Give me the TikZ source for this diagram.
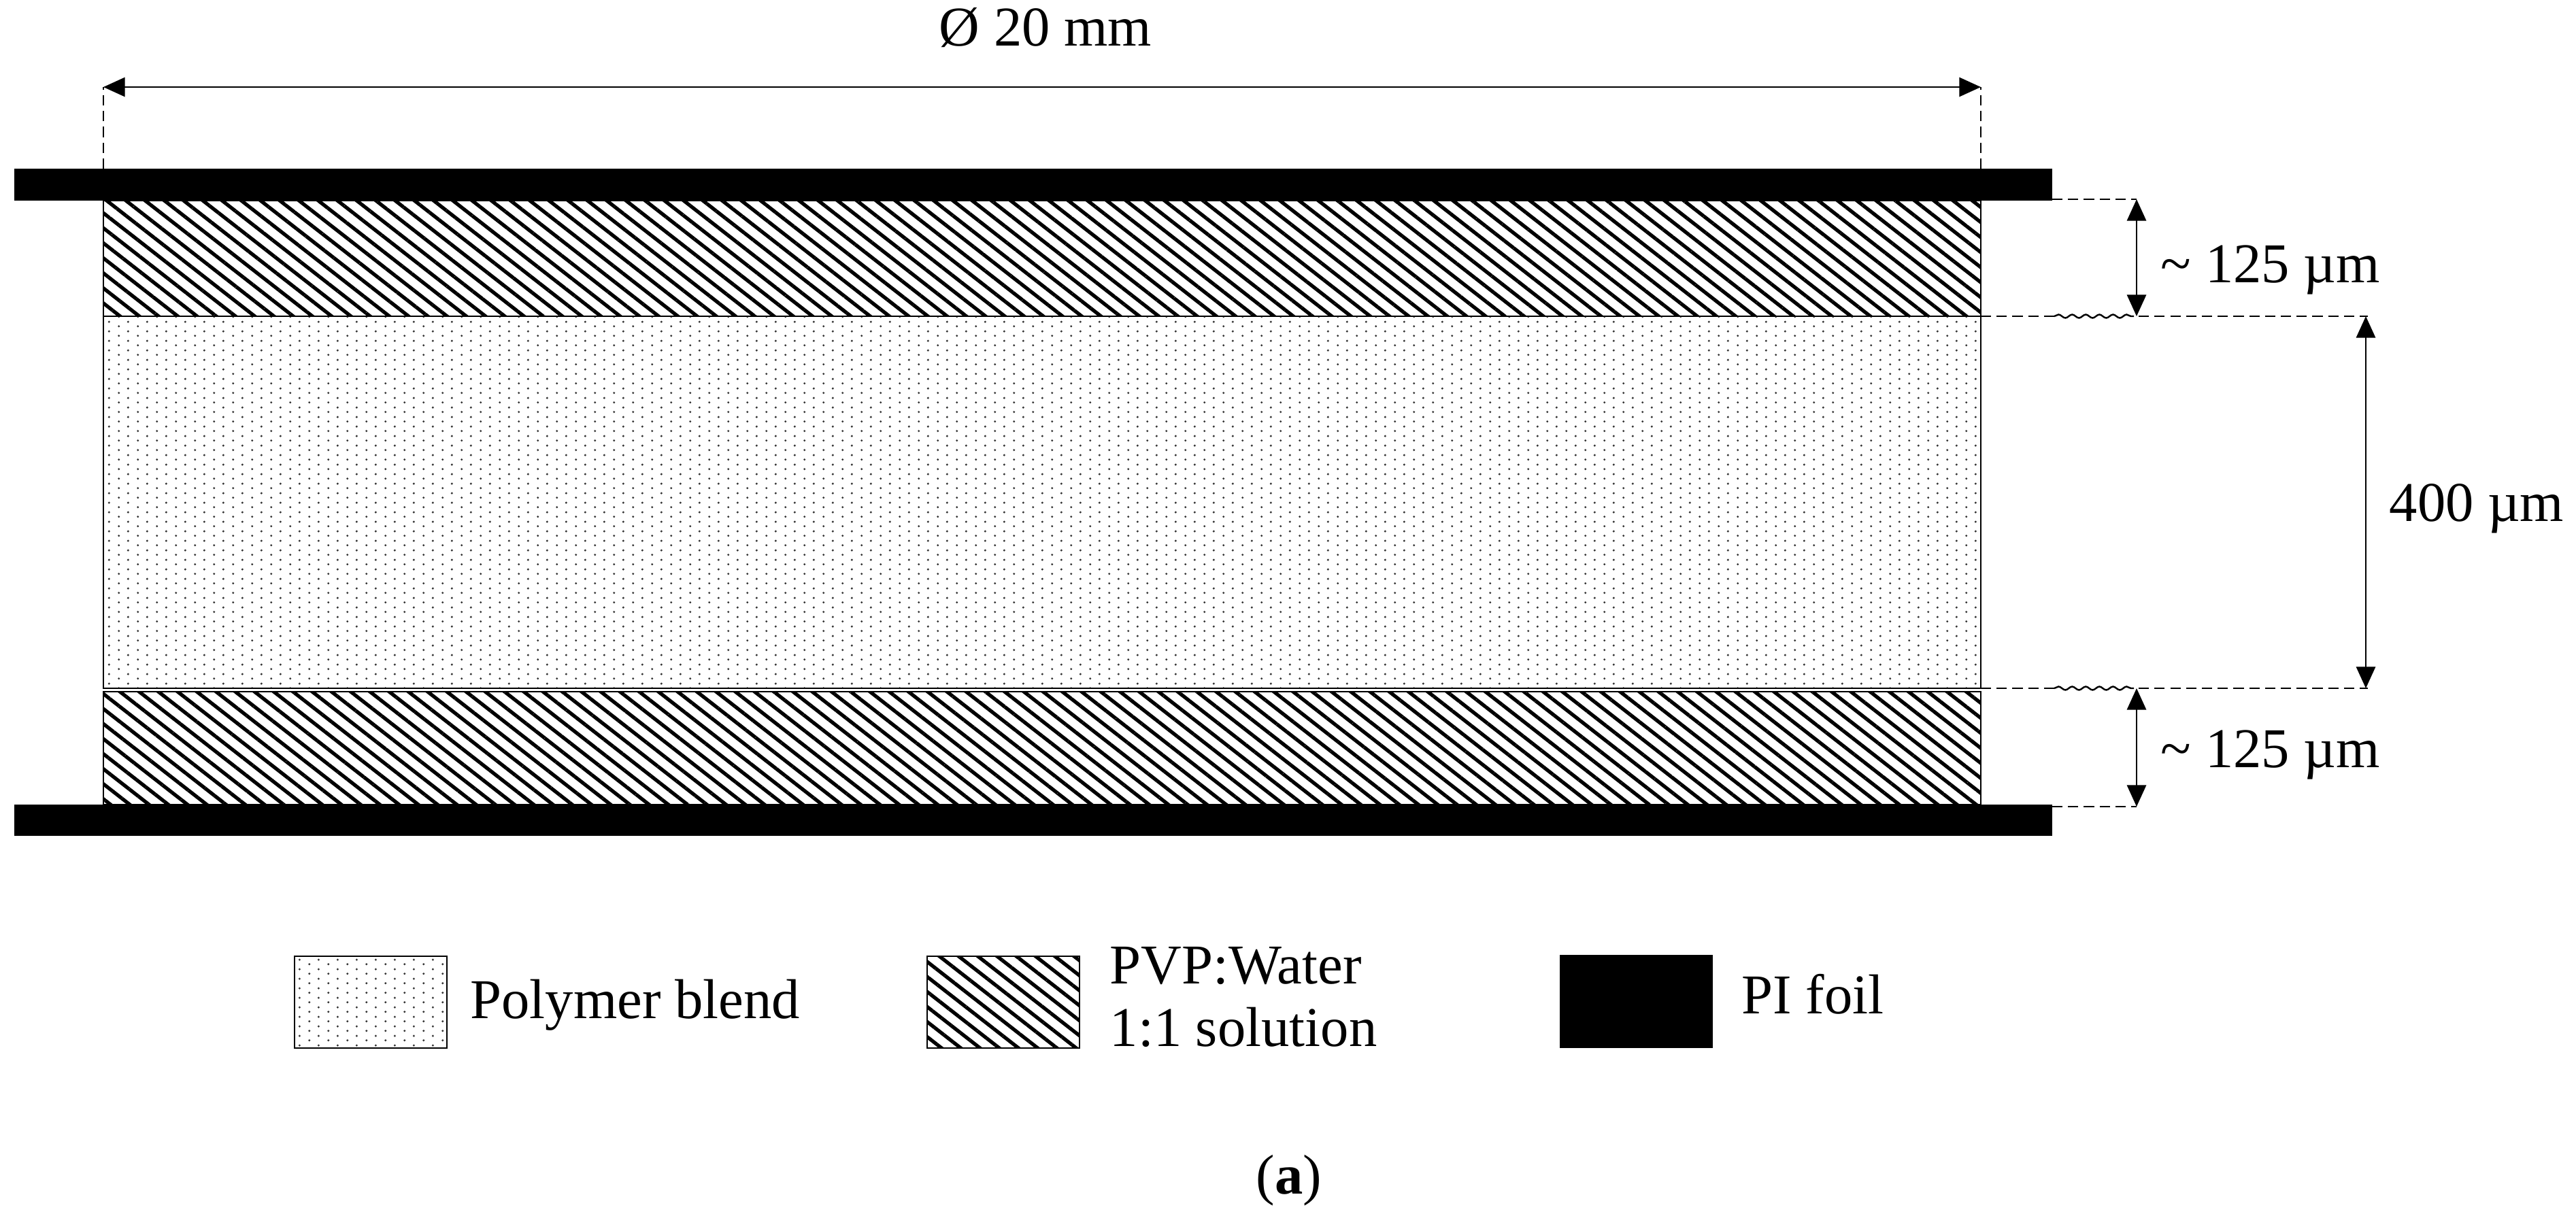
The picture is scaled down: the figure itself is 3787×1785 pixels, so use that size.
\documentclass[tikz,border=0pt]{standalone}
\usepackage{fontspec}
\setmainfont{Liberation Serif}
\usetikzlibrary{arrows.meta,patterns,patterns.meta,decorations.pathmorphing}
\pgfdeclarepatternformonly{refdots}{\pgfpointorigin}{\pgfqpoint{7.967pt}{3.983pt}}{\pgfqpoint{7.967pt}{3.983pt}}{%
  \pgfpathcircle{\pgfqpoint{1.99pt}{1.0pt}}{0.5pt}%
  \pgfpathcircle{\pgfqpoint{5.98pt}{2.99pt}}{0.5pt}%
  \pgfusepath{fill}}
\tikzset{
  foilbar/.style={fill=black, draw=none},
  hatchlayer/.style={pattern={Lines[angle=-38,distance=4.95pt,line width=1.5pt]}, draw=black, line width=0.6pt},
  dotlayer/.style={pattern=refdots, pattern color=black!80, draw=black, line width=0.6pt},
  legbox/.style={line width=0.8pt},
  dimline/.style={line width=0.8pt, {Triangle[length=9pt,width=8pt]}-{Triangle[length=9pt,width=8pt]}},
  guide/.style={line width=0.7pt, dash pattern=on 4.3pt off 2.3pt},
  wavy/.style={line width=0.7pt, decorate, decoration={snake, segment length=0.2cm, amplitude=0.025cm}},
  lbl/.style={font=\fontsize{23.5}{28}\selectfont, inner sep=0pt, anchor=base west},
}
\begin{document}
\begin{tikzpicture}[x=0.01cm, y=-0.01cm]
\fill[white] (0,0) rectangle (3787,1785);
\useasboundingbox (0,0) rectangle (3787,1785);
% layers
\path[hatchlayer] (152,295) rectangle (2912,465);
\path[dotlayer] (152,465) rectangle (2912,1012);
\path[hatchlayer] (152,1017) rectangle (2912,1183);
% foils
\path[foilbar] (21,248) rectangle (3017,295);
\path[foilbar] (21,1183) rectangle (3017,1229);
% diameter
\coordinate (dl) at (152,128);
\coordinate (dr) at (2912,128);
\coordinate (dlb) at (152,248);
\coordinate (drb) at (2912,248);
\draw[guide] (dlb) -- (dl);
\draw[guide] (drb) -- (dr);
\draw[dimline] (dl) -- (dr);
\node[lbl, anchor=base] (dia) at (1537,68) {Ø 20 mm};
% right dimensions
\coordinate (g1a) at (3017,293); \coordinate (g1b) at (3141,293);
\coordinate (g2a) at (2912,465); \coordinate (g2b) at (3481,465);
\coordinate (g3a) at (2912,1012); \coordinate (g3b) at (3481,1012);
\coordinate (g4a) at (3017,1186); \coordinate (g4b) at (3141,1186);
\draw[guide] (g1a) -- (g1b);
\draw[guide] (g2a) -- (g2b);
\draw[guide] (g3a) -- (g3b);
\draw[guide] (g4a) -- (g4b);
\coordinate (w1a) at (3020,465); \coordinate (w1b) at (3137,465);
\coordinate (w2a) at (3020,1012); \coordinate (w2b) at (3137,1012);
\draw[white, line width=2pt] (w1a) -- (w1b);
\draw[white, line width=2pt] (w2a) -- (w2b);
\draw[wavy] (w1a) -- (w1b);
\draw[wavy] (w2a) -- (w2b);
\draw[dimline] (g1b) -- (3141,465);
\draw[dimline] (3478,465) -- (3478,1012);
\draw[dimline] (3141,1012) -- (g4b);
\node[lbl] (t1) at (3176,415) {\char"007E{} 125 µm};
\node[lbl] (t2) at (3512,766) {400 µm};
\node[lbl] (t3) at (3176,1128) {\char"007E{} 125 µm};
% legend
\path[dotlayer, legbox] (433,1406) rectangle (657,1541);
\node[lbl] (l1) at (691,1497) {Polymer blend};
\path[hatchlayer, legbox] (1363,1406) rectangle (1587,1541);
\node[lbl] (l2) at (1631,1446) {PVP:Water};
\node[lbl] (l3) at (1631,1538) {1:1 solution};
\path[foilbar] (2293,1404) rectangle (2518,1541);
\node[lbl] (l4) at (2560,1490) {PI foil};
\node[lbl, anchor=base] (cap) at (1895,1755) {(\textbf{a})};
\end{tikzpicture}
\end{document}
